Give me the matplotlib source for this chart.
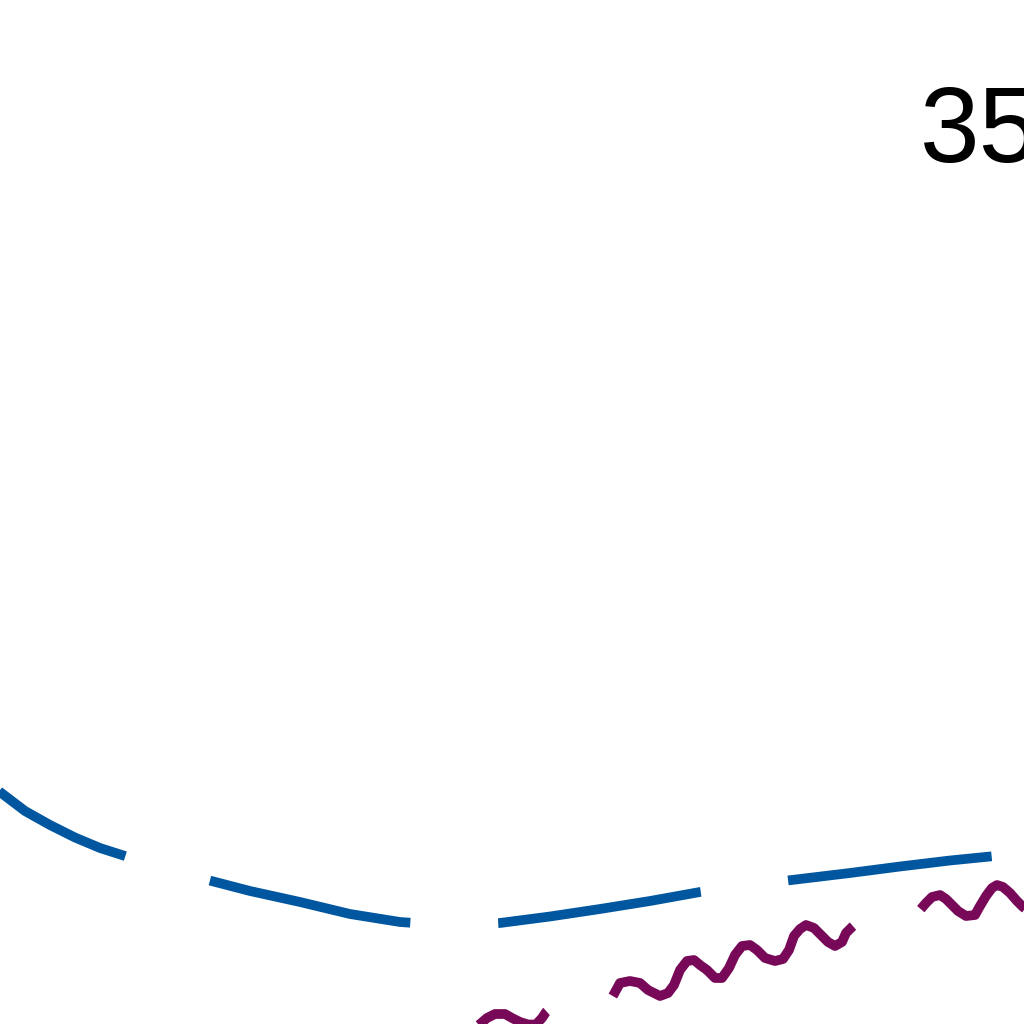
import matplotlib
matplotlib.use("Agg")
import matplotlib.pyplot as plt

# values (x, y in chart units)
blue_x = [-5, 0, 2.5, 5, 7.5, 10, 15, 20, 25, 30, 35, 40, 45, 50, 55, 60,
          65, 70, 75, 80, 85, 90, 95, 100, 105]
blue_y = [27.6, 23.2, 21.3, 19.9, 18.65, 17.6, 16.0, 14.6, 13.3, 12.2, 11.0,
          10.2, 9.85, 10.1, 10.75, 11.5, 12.3, 13.2, 13.9, 14.5, 15.1, 15.75,
          16.35, 16.85, 17.3]

purple_x = [47.0, 48.0, 48.7, 49.5, 50.5, 51.2, 52.0, 52.8, 53.6, 54.2, 54.6,
            55.5, 56.5, 57.5, 59.0, 60.0, 60.7,
            61.4, 62.0, 63.0, 64.0, 64.8, 66.0, 66.8, 67.4, 68.0, 68.7, 69.4,
            70.0, 70.7, 71.5, 72.2, 72.9, 73.5, 74.2, 75.0, 75.7, 76.5, 77.5,
            78.3, 78.9, 79.4, 80.0, 80.6, 81.4, 82.2, 82.8, 83.5, 84.2, 84.6,
            85.2, 86.0, 87.0, 88.0, 89.5, 90.5, 91.2,
            92.0, 92.6, 93.2, 94.0, 94.6, 95.2, 95.8, 96.6, 97.5, 98.0, 98.6,
            99.2, 99.7, 100.3, 101.0, 101.7, 102.3, 103.5]
purple_y = [-0.8, 0.0, 0.6, 1.0, 1.0, 0.6, 0.2, -0.05, -0.05, 0.6, 1.2,
            2.0, 2.4, 2.1, 1.6, 1.4, 1.8,
            3.0, 4.1, 4.3, 4.1, 3.4, 2.8, 3.1, 3.9, 5.4, 6.3, 6.4,
            5.9, 5.4, 4.6, 4.6, 5.6, 6.9, 7.8, 7.9, 7.4, 6.6, 6.3,
            6.5, 7.4, 8.8, 9.5, 9.9, 9.6, 8.8, 8.2, 7.8, 8.2, 9.1,
            9.7, 10.4, 10.8, 10.6, 10.2, 10.0, 10.4,
            11.4, 12.1, 12.7, 12.9, 12.5, 11.9, 11.3, 10.8, 10.9, 11.8, 12.8,
            13.6, 13.9, 13.7, 13.1, 12.3, 11.7, 10.9]

label_text = "35"

# dash lengths given in points, not scaled by line width
plt.rcParams['lines.scale_dashes'] = False

fig = plt.figure(figsize=(10.24, 10.24), dpi=100)
ax = fig.add_axes([0, 0, 1, 1])
ax.set_xlim(0, 102.4)
ax.set_ylim(0, 102.4)
ax.axis('off')

ax.plot(blue_x, blue_y, color='#00569F', lw=7.0,
        linestyle=(44.6, (147.6, 63.4)), dash_capstyle='butt')
ax.plot(purple_x, purple_y, color='#780858', lw=7.0,
        linestyle=(185.8, (243.4, 56.2)), dash_capstyle='butt')

ax.text(92.0, 86.2, label_text, fontsize=77, family='Liberation Sans',
        color='black', ha='left', va='baseline')

fig.savefig('out.png', dpi=100)
